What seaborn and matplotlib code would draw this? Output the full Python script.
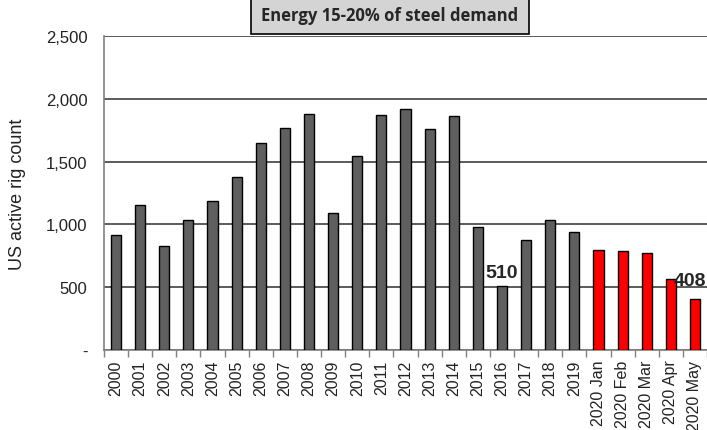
import numpy as np
import pandas as pd
import matplotlib
matplotlib.use("Agg")
import matplotlib.pyplot as plt
import seaborn as sns
from matplotlib.ticker import FixedLocator, FuncFormatter

periods = ["2000", "2001", "2002", "2003", "2004", "2005", "2006", "2007", "2008", "2009",
           "2010", "2011", "2012", "2013", "2014", "2015", "2016", "2017", "2018", "2019",
           "2020 Jan", "2020 Feb", "2020 Mar", "2020 Apr", "2020 May"]
rig_count = [918, 1156, 830, 1032, 1190, 1381, 1649, 1768, 1879, 1089,
             1546, 1875, 1919, 1761, 1862, 977, 510, 876, 1032, 943,
             796, 792, 772, 563, 408]
group = ["annual"] * 20 + ["2020"] * 5
title_text = "Energy 15-20% of steel demand"

df = pd.DataFrame({"period": periods, "rigs": rig_count, "group": group})

sns.set_style("white")
plt.rcParams["font.family"] = ["Liberation Sans", "DejaVu Sans"]

fig = plt.figure(figsize=(7.07, 4.31), dpi=100)
ax = fig.add_axes([104 / 707, 80 / 431, 603 / 707, 314 / 431])

sns.barplot(data=df, x="period", y="rigs", hue="group",
            palette={"annual": "#5f5f5f", "2020": "#ff0000"}, saturation=1,
            dodge=False, width=0.42, edgecolor="black", linewidth=1.0,
            legend=False, ax=ax, zorder=3)

ax.set_xlim(-0.5, len(periods) - 0.5)
ax.set_ylim(0, 2500)
ax.set_yticks([0, 500, 1000, 1500, 2000, 2500])
ax.yaxis.set_major_formatter(FuncFormatter(lambda v, p: "-" if v == 0 else f"{int(v):,}"))
ax.grid(axis="y", color="#404040", linewidth=1.2, zorder=0)
ax.set_axisbelow(True)

# Excel-style ticks between categories
ax.xaxis.set_minor_locator(FixedLocator(np.arange(-0.5, len(periods), 1.0)))
ax.tick_params(axis="x", which="major", length=0, labelsize=11.5, rotation=90, pad=7)
ax.tick_params(axis="x", which="minor", length=5, color="#808080", width=1, direction="out")
ax.tick_params(axis="y", which="major", length=0, labelsize=12, labelcolor="#222222", pad=12)
ax.tick_params(axis="x", labelcolor="#222222")
ax.xaxis.set_ticks_position("bottom")

for side in ["top", "right"]:
    ax.spines[side].set_visible(False)
for side in ["left", "bottom"]:
    ax.spines[side].set_color("#808080")
    ax.spines[side].set_linewidth(1.2)

ax.set_xlabel("")
ax.set_ylabel("US active rig count", fontsize=13, color="#222222")
ax.yaxis.set_label_coords(-0.13, 0.5)

ax.text(16, 510 + 40, "510", ha="center", va="bottom", fontsize=14, fontweight="bold")
ax.text(0.999, 555, "408", ha="right", va="center", fontsize=14, fontweight="bold",
        transform=ax.get_yaxis_transform())

fig.text(390 / 707, 1 - 16 / 431, title_text, ha="center", va="center",
         fontsize=12, fontweight="bold", family=["Open Sans", "DejaVu Sans"],
         bbox=dict(boxstyle="square,pad=0.6", facecolor="#d4d4d4", edgecolor="black", linewidth=1.2))

fig.savefig("out.png", dpi=100)
